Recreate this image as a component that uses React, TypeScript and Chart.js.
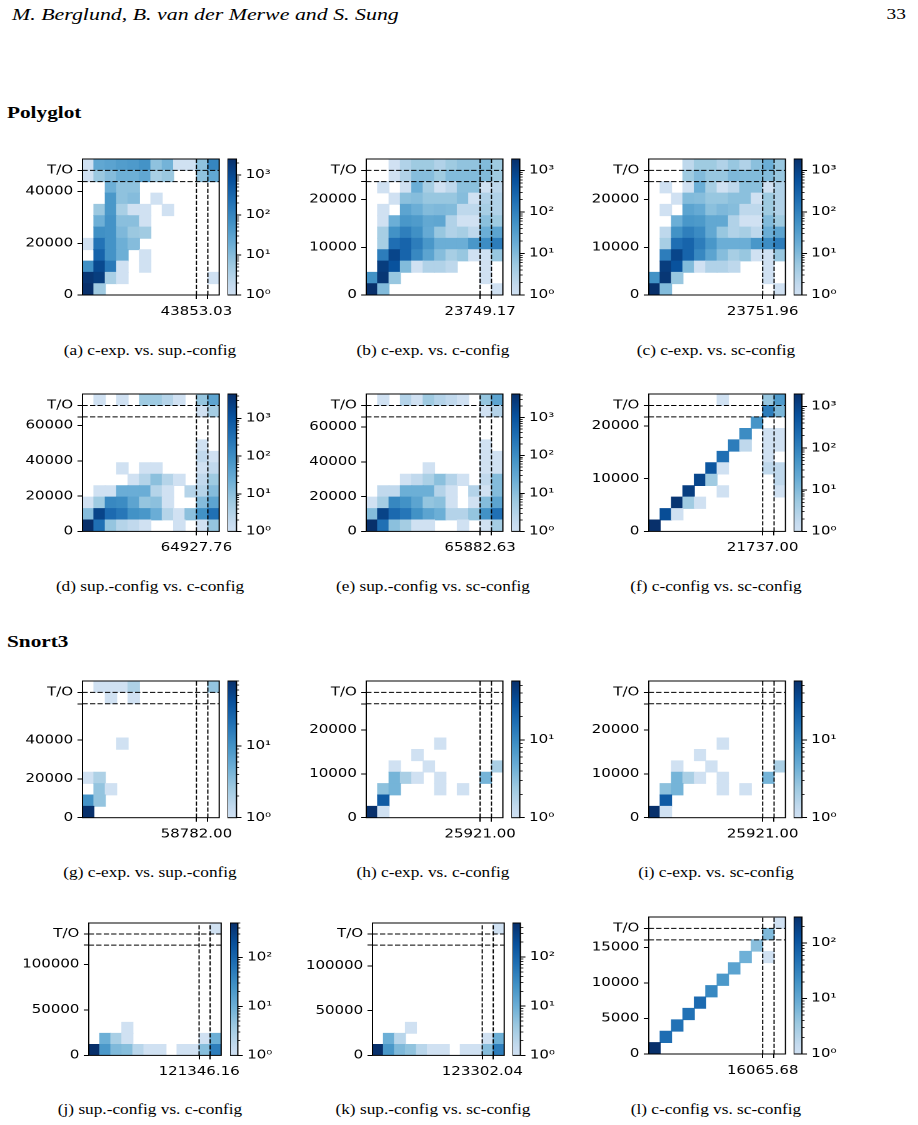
import { useEffect, useRef } from "react";
import { Chart, registerables } from "chart.js";

Chart.register(...registerables);

// Horizontal widening applied to the whole page (text and plots alike).
const SX = 1.25;

// ---------------------------------------------------------------- data
// Bin counts per panel, 12 x 12 bins; rows listed from the top (T/O row) down to 0.
const countsA = [
  [1, 25, 30, 40, 45, 60, 8, 15, 1, 1, 8, 100],
  [1, 6, 10, 18, 18, 25, 4, 6, 0, 0, 8, 25],
  [0, 0, 18, 8, 8, 0, 0, 0, 0, 0, 0, 0],
  [0, 0, 50, 8, 10, 0, 1, 0, 0, 0, 0, 0],
  [0, 6, 50, 4, 1, 1, 0, 1, 0, 0, 0, 0],
  [0, 18, 60, 9, 9, 1, 0, 0, 0, 0, 0, 0],
  [0, 70, 60, 12, 6, 5, 0, 0, 0, 0, 0, 0],
  [1, 200, 60, 18, 10, 0, 0, 0, 0, 0, 0, 0],
  [0, 350, 60, 18, 0, 1, 0, 0, 0, 0, 0, 0],
  [70, 1000, 170, 1, 0, 1, 0, 0, 0, 0, 0, 0],
  [2000, 1500, 4, 1, 0, 0, 0, 0, 0, 0, 0, 1],
  [2500, 5, 0, 0, 0, 0, 0, 0, 0, 0, 0, 0],
];
const countsB = [
  [0, 0, 1, 3, 5, 5, 3, 5, 7, 7, 10, 5],
  [0, 0, 1, 3, 9, 9, 5, 10, 10, 10, 10, 5],
  [0, 1, 0, 1, 17, 4, 1, 2, 8, 8, 1, 2],
  [0, 0, 1, 8, 9, 6, 6, 6, 9, 1, 3, 3],
  [0, 1, 0, 26, 17, 10, 11, 10, 2, 2, 4, 3],
  [0, 1, 17, 45, 38, 22, 24, 3, 1, 1, 8, 5],
  [0, 4, 55, 110, 60, 20, 6, 3, 4, 2, 17, 26],
  [0, 4, 200, 290, 115, 45, 17, 17, 17, 45, 65, 115],
  [0, 115, 900, 290, 80, 26, 9, 4, 6, 1, 1, 6],
  [0, 1200, 570, 10, 1, 3, 3, 2, 0, 0, 1, 0],
  [55, 1500, 6, 0, 0, 0, 0, 0, 0, 0, 1, 0],
  [1900, 10, 0, 0, 0, 0, 0, 0, 0, 0, 0, 1],
];
const countsC = [
  [0, 0, 0, 2, 5, 5, 3, 6, 3, 8, 17, 6],
  [0, 0, 0, 5, 10, 6, 6, 11, 10, 10, 10, 6],
  [0, 1, 0, 1, 17, 4, 1, 2, 8, 8, 1, 3],
  [0, 0, 1, 10, 9, 6, 6, 8, 8, 1, 5, 3],
  [0, 1, 0, 26, 20, 8, 11, 9, 2, 2, 5, 3],
  [0, 0, 17, 45, 40, 22, 22, 3, 1, 1, 10, 5],
  [0, 2, 55, 110, 70, 22, 6, 3, 4, 2, 17, 26],
  [0, 4, 200, 290, 115, 45, 17, 17, 17, 45, 65, 115],
  [0, 115, 900, 290, 80, 26, 9, 4, 6, 1, 1, 6],
  [0, 1200, 570, 10, 1, 3, 3, 2, 0, 0, 1, 0],
  [55, 1500, 6, 0, 0, 0, 0, 0, 0, 0, 1, 0],
  [1900, 10, 0, 0, 0, 0, 0, 0, 0, 0, 0, 1],
];
const countsD = [
  [0, 1, 0, 1, 0, 6, 6, 3, 1, 0, 8, 37],
  [0, 0, 0, 0, 0, 0, 0, 0, 0, 0, 1, 5],
  [0, 0, 0, 0, 0, 0, 0, 0, 0, 0, 0, 0],
  [0, 0, 0, 0, 0, 0, 0, 0, 0, 0, 0, 0],
  [0, 0, 0, 0, 0, 0, 0, 0, 0, 0, 1, 0],
  [0, 0, 0, 0, 0, 0, 0, 0, 0, 0, 2, 1],
  [0, 0, 0, 1, 0, 1, 1, 0, 0, 0, 1, 2],
  [0, 0, 0, 0, 1, 3, 10, 3, 1, 0, 2, 6],
  [0, 1, 1, 24, 24, 24, 3, 1, 0, 3, 3, 12],
  [1, 6, 130, 110, 37, 8, 10, 1, 0, 0, 12, 37],
  [12, 2000, 430, 260, 87, 70, 24, 3, 1, 10, 87, 340],
  [4600, 340, 8, 3, 2, 1, 0, 0, 1, 0, 1, 8],
];
const countsE = [
  [0, 1, 0, 3, 1, 6, 3, 2, 1, 0, 8, 37],
  [0, 0, 0, 0, 0, 0, 0, 0, 0, 0, 1, 3],
  [0, 0, 0, 0, 0, 0, 0, 0, 0, 0, 0, 0],
  [0, 0, 0, 0, 0, 0, 0, 0, 0, 0, 0, 0],
  [0, 0, 0, 0, 0, 0, 0, 0, 0, 0, 1, 0],
  [0, 0, 0, 0, 0, 0, 0, 0, 0, 0, 1, 1],
  [0, 0, 0, 0, 0, 1, 0, 0, 0, 0, 1, 1],
  [0, 0, 0, 1, 2, 4, 10, 3, 1, 0, 2, 12],
  [0, 2, 2, 22, 22, 22, 3, 1, 0, 3, 1, 12],
  [1, 5, 130, 85, 37, 8, 10, 1, 0, 1, 12, 37],
  [12, 2000, 430, 250, 85, 37, 22, 3, 3, 8, 85, 320],
  [4300, 320, 10, 5, 1, 1, 0, 0, 1, 0, 1, 5],
];
const countsF = [
  [0, 0, 0, 0, 0, 0, 1, 0, 0, 0, 6, 40],
  [0, 0, 0, 0, 0, 0, 0, 0, 0, 0, 120, 12],
  [0, 0, 0, 0, 0, 0, 0, 0, 0, 50, 0, 0],
  [0, 0, 0, 0, 0, 0, 0, 0, 70, 0, 1, 1],
  [0, 0, 0, 0, 0, 0, 0, 120, 2, 0, 1, 1],
  [0, 0, 0, 0, 0, 0, 200, 0, 0, 0, 1, 0],
  [0, 0, 0, 0, 0, 500, 1, 0, 0, 0, 2, 2],
  [0, 0, 0, 0, 900, 5, 0, 0, 0, 0, 0, 2],
  [0, 0, 0, 1200, 0, 0, 1, 0, 0, 0, 0, 1],
  [0, 0, 1700, 5, 1, 0, 0, 0, 0, 0, 0, 0],
  [0, 700, 1, 0, 0, 0, 0, 0, 0, 0, 0, 0],
  [2000, 0, 0, 0, 0, 0, 0, 0, 0, 0, 0, 0],
];
const countsG = [
  [0, 1, 1, 1, 2, 0, 0, 0, 0, 0, 0, 3],
  [0, 0, 1, 0, 1, 0, 0, 0, 0, 0, 0, 0],
  [0, 0, 0, 0, 0, 0, 0, 0, 0, 0, 0, 0],
  [0, 0, 0, 0, 0, 0, 0, 0, 0, 0, 0, 0],
  [0, 0, 0, 0, 0, 0, 0, 0, 0, 0, 0, 0],
  [0, 0, 0, 1, 0, 0, 0, 0, 0, 0, 0, 0],
  [0, 0, 0, 0, 0, 0, 0, 0, 0, 0, 0, 0],
  [0, 0, 0, 0, 0, 0, 0, 0, 0, 0, 0, 0],
  [1, 2, 0, 0, 0, 0, 0, 0, 0, 0, 0, 0],
  [0, 3, 1, 0, 0, 0, 0, 0, 0, 0, 0, 0],
  [10, 3, 0, 0, 0, 0, 0, 0, 0, 0, 0, 0],
  [80, 0, 0, 0, 0, 0, 0, 0, 0, 0, 0, 0],
];
const countsH = [
  [0, 0, 0, 0, 0, 0, 0, 0, 0, 0, 0, 0],
  [0, 0, 0, 0, 0, 0, 0, 0, 0, 0, 0, 0],
  [0, 0, 0, 0, 0, 0, 0, 0, 0, 0, 0, 0],
  [0, 0, 0, 0, 0, 0, 0, 0, 0, 0, 0, 0],
  [0, 0, 0, 0, 0, 0, 0, 0, 0, 0, 0, 0],
  [0, 0, 0, 0, 0, 0, 1, 0, 0, 0, 0, 0],
  [0, 0, 0, 0, 1, 0, 0, 0, 0, 0, 0, 0],
  [0, 0, 1, 0, 0, 1, 0, 0, 0, 0, 0, 2],
  [0, 0, 4, 2, 1, 0, 1, 0, 0, 0, 4, 0],
  [0, 3, 4, 0, 0, 0, 1, 0, 1, 0, 0, 0],
  [0, 25, 0, 0, 0, 0, 0, 0, 0, 0, 0, 0],
  [57, 1, 0, 0, 0, 0, 0, 0, 0, 0, 0, 0],
];
const countsI = [
  [0, 0, 0, 0, 0, 0, 0, 0, 0, 0, 0, 0],
  [0, 0, 0, 0, 0, 0, 0, 0, 0, 0, 0, 0],
  [0, 0, 0, 0, 0, 0, 0, 0, 0, 0, 0, 0],
  [0, 0, 0, 0, 0, 0, 0, 0, 0, 0, 0, 0],
  [0, 0, 0, 0, 0, 0, 0, 0, 0, 0, 0, 0],
  [0, 0, 0, 0, 0, 0, 1, 0, 0, 0, 0, 0],
  [0, 0, 0, 0, 1, 0, 0, 0, 0, 0, 0, 0],
  [0, 0, 1, 0, 0, 1, 0, 0, 0, 0, 0, 2],
  [0, 0, 4, 2, 1, 0, 1, 0, 0, 0, 4, 0],
  [0, 3, 4, 0, 0, 0, 1, 0, 1, 0, 0, 0],
  [0, 25, 0, 0, 0, 0, 0, 0, 0, 0, 0, 0],
  [57, 1, 0, 0, 0, 0, 0, 0, 0, 0, 0, 0],
];
const countsJ = [
  [0, 0, 0, 0, 0, 0, 0, 0, 0, 0, 0, 1],
  [0, 0, 0, 0, 0, 0, 0, 0, 0, 0, 0, 0],
  [0, 0, 0, 0, 0, 0, 0, 0, 0, 0, 0, 0],
  [0, 0, 0, 0, 0, 0, 0, 0, 0, 0, 0, 0],
  [0, 0, 0, 0, 0, 0, 0, 0, 0, 0, 0, 0],
  [0, 0, 0, 0, 0, 0, 0, 0, 0, 0, 0, 0],
  [0, 0, 0, 0, 0, 0, 0, 0, 0, 0, 0, 0],
  [0, 0, 0, 0, 0, 0, 0, 0, 0, 0, 0, 0],
  [0, 0, 0, 0, 0, 0, 0, 0, 0, 0, 0, 0],
  [0, 0, 0, 1, 0, 0, 0, 0, 0, 0, 0, 0],
  [0, 10, 3, 1, 0, 0, 0, 0, 0, 0, 1, 10],
  [500, 22, 7, 6, 2, 1, 1, 0, 1, 1, 6, 50],
];
const countsK = [
  [0, 0, 0, 0, 0, 0, 0, 0, 0, 0, 0, 1],
  [0, 0, 0, 0, 0, 0, 0, 0, 0, 0, 0, 0],
  [0, 0, 0, 0, 0, 0, 0, 0, 0, 0, 0, 0],
  [0, 0, 0, 0, 0, 0, 0, 0, 0, 0, 0, 0],
  [0, 0, 0, 0, 0, 0, 0, 0, 0, 0, 0, 0],
  [0, 0, 0, 0, 0, 0, 0, 0, 0, 0, 0, 0],
  [0, 0, 0, 0, 0, 0, 0, 0, 0, 0, 0, 0],
  [0, 0, 0, 0, 0, 0, 0, 0, 0, 0, 0, 0],
  [0, 0, 0, 0, 0, 0, 0, 0, 0, 0, 0, 0],
  [0, 0, 0, 1, 0, 0, 0, 0, 0, 0, 0, 0],
  [0, 10, 2, 0, 0, 0, 0, 0, 0, 0, 1, 10],
  [490, 22, 7, 5, 2, 1, 1, 0, 1, 1, 6, 50],
];
const countsL = [
  [0, 0, 0, 0, 0, 0, 0, 0, 0, 0, 0, 1],
  [0, 0, 0, 0, 0, 0, 0, 0, 0, 0, 6, 0],
  [0, 0, 0, 0, 0, 0, 0, 0, 0, 5, 0, 0],
  [0, 0, 0, 0, 0, 0, 0, 0, 8, 0, 1, 0],
  [0, 0, 0, 0, 0, 0, 0, 12, 0, 0, 0, 0],
  [0, 0, 0, 0, 0, 0, 17, 0, 0, 0, 0, 0],
  [0, 0, 0, 0, 0, 27, 0, 0, 0, 0, 0, 0],
  [0, 0, 0, 0, 60, 0, 0, 0, 0, 0, 0, 0],
  [0, 0, 0, 50, 0, 0, 0, 0, 0, 0, 0, 0],
  [0, 0, 50, 0, 0, 0, 0, 0, 0, 0, 0, 0],
  [0, 55, 0, 0, 0, 0, 0, 0, 0, 0, 0, 0],
  [295, 0, 0, 0, 0, 0, 0, 0, 0, 0, 0, 0],
];

// Timeout threshold of each comparison (x tick label, dashed lines).
const thresholds = [
  43853.03, 23749.17, 23751.96, 64927.76, 65882.63, 21737.0,
  58782.0, 25921.0, 25921.0, 121346.16, 123302.04, 16065.68,
];
// Labelled y ticks of each panel.
const yTickValues = [
  [0, 20000, 40000],
  [0, 10000, 20000],
  [0, 10000, 20000],
  [0, 20000, 40000, 60000],
  [0, 20000, 40000, 60000],
  [0, 10000, 20000],
  [0, 20000, 40000],
  [0, 10000, 20000],
  [0, 10000, 20000],
  [0, 50000, 100000],
  [0, 50000, 100000],
  [0, 5000, 10000, 15000],
];
// Upper end of each colour bar (log scale from 1).
const colorMax = [2500, 1900, 1900, 4500, 4200, 2000, 80, 57, 57, 500, 490, 295];
const captions = [
  "(a) c-exp. vs. sup.-config",
  "(b) c-exp. vs. c-config",
  "(c) c-exp. vs. sc-config",
  "(d) sup.-config vs. c-config",
  "(e) sup.-config vs. sc-config",
  "(f) c-config vs. sc-config",
  "(g) c-exp. vs. sup.-config",
  "(h) c-exp. vs. c-config",
  "(i) c-exp. vs. sc-config",
  "(j) sup.-config vs. c-config",
  "(k) sup.-config vs. sc-config",
  "(l) c-config vs. sc-config",
];
const allCounts = [countsA, countsB, countsC, countsD, countsE, countsF, countsG, countsH, countsI, countsJ, countsK, countsL];

// ---------------------------------------------------------------- layout
// [plotLeft, plotTop, plotRight, plotBottom, barLeft, barRight] in page pixels.
const PANEL_BOXES = [
  [82.3, 159, 219, 295, 227.5, 236.3],
  [365.7, 159, 502.3, 295, 510.7, 519.2],
  [648.3, 159, 785, 295, 793.3, 801.5],
  [82.3, 394.3, 219, 531.7, 227.5, 236.5],
  [365.7, 394.3, 502.3, 531.7, 510.7, 519.2],
  [648.3, 394.3, 785, 531.7, 793.3, 801.5],
  [82.3, 681, 219, 817.7, 227.5, 236.5],
  [365.7, 681, 502.3, 817.7, 510.7, 519.2],
  [648.3, 681, 785, 817.7, 793.3, 801.5],
  [89.3, 923.3, 221.7, 1055.7, 229.7, 237.5],
  [372.3, 923.3, 504, 1055.7, 512.3, 520.2],
  [648.3, 917.3, 785, 1054.3, 793.3, 801.5],
];
const CAPTION_X = [150, 433, 716];
const CAPTION_Y = [351, 587, 873, 1110];

const TICK_FONT = { family: "'DejaVu Sans'", size: 12 };
const AX_W = 62; // room for the y tick labels
const PAD_T = 12;
const EXTRA_R = 40; // room for the x tick label overhanging the plot
const CB_AX_W = 40;
const CB_PAD = 14;

// matplotlib "Blues", used from 0.2 upwards
const BLUES = [
  [247, 251, 255], [222, 235, 247], [198, 219, 239], [158, 202, 225], [107, 174, 214],
  [66, 146, 198], [33, 113, 181], [8, 81, 156], [8, 48, 107],
];
function blues(t: number) {
  const x = Math.min(Math.max(t, 0), 1) * 8;
  const i = Math.min(Math.floor(x), 7);
  const f = x - i;
  const a = BLUES[i];
  const b = BLUES[i + 1];
  const c = a.map((v, k) => Math.round(v + (b[k] - v) * f));
  return `rgb(${c[0]},${c[1]},${c[2]})`;
}
const cmap = (t: number) => blues(0.2 + 0.8 * t);

const SUP = ["⁰", "¹", "²", "³", "⁴", "⁵"];

const framePlugin = {
  id: "frame",
  afterDatasetsDraw(chart: any) {
    const { ctx, chartArea: a } = chart;
    ctx.save();
    ctx.strokeStyle = "#000";
    ctx.lineWidth = 1;
    ctx.setLineDash([]);
    ctx.strokeRect(a.left, a.top, a.right - a.left, a.bottom - a.top);
    ctx.restore();
  },
};

function Heatmap({ counts, threshold, yTicks, vmax, box }: any) {
  const ref = useRef<HTMLCanvasElement>(null);
  const [pl, pt, pr, pb] = box;
  const plotW = (pr - pl) / SX;
  const plotH = pb - pt;
  const width = Math.ceil(AX_W + plotW + EXTRA_R);
  const height = Math.ceil(PAD_T + plotH + 30);
  const padR = width - AX_W - plotW;
  const axH = height - PAD_T - plotH;

  useEffect(() => {
    const bin = threshold / 10;
    const timeout = threshold * 1.1;
    const span = bin * counts[0].length;
    const cells: any[] = [];
    const fills: string[] = [];
    const nRows = counts.length;
    counts.forEach((row: number[], i: number) => {
      const r = nRows - 1 - i;
      row.forEach((n, c) => {
        if (n > 0) {
          cells.push({ x: (c + 0.5) * bin, y: [r * bin, (r + 1) * bin] });
          fills.push(cmap(Math.log(n) / Math.log(vmax)));
        }
      });
    });
    const dashed = (pts: any[]) => ({
      type: "line",
      data: pts,
      borderColor: "#000",
      borderWidth: 1,
      borderDash: [4.2, 1.8],
      pointRadius: 0,
      fill: false,
      tension: 0,
      order: 0,
    });
    const yVals = [...yTicks, threshold, timeout];
    const yLabels = [...yTicks.map((v: number) => String(v)), "", "T/O"];
    const xVals = [threshold, timeout];
    const xLabels = [threshold.toFixed(2), ""];

    const chart = new Chart(ref.current as HTMLCanvasElement, {
      type: "bar",
      data: {
        datasets: [
          {
            type: "bar",
            data: cells,
            backgroundColor: fills,
            borderWidth: 0,
            barPercentage: 1,
            categoryPercentage: 1,
            inflateAmount: 0.4,
            order: 1,
          } as any,
          dashed([{ x: 0, y: threshold }, { x: span, y: threshold }]),
          dashed([{ x: 0, y: timeout }, { x: span, y: timeout }]),
          dashed([{ x: threshold, y: 0 }, { x: threshold, y: span }]),
          dashed([{ x: timeout, y: 0 }, { x: timeout, y: span }]),
        ],
      },
      options: {
        animation: false,
        responsive: false,
        devicePixelRatio: 2,
        events: [],
        layout: { padding: { top: PAD_T, right: padR, left: 0, bottom: 0 } },
        plugins: { legend: { display: false }, tooltip: { enabled: false } },
        scales: {
          x: {
            type: "linear",
            min: 0,
            max: span,
            offset: false,
            afterBuildTicks: (s: any) => {
              s.ticks = xVals.map((v) => ({ value: v }));
            },
            afterFit: (s: any) => {
              s.height = axH;
            },
            ticks: {
              callback: (_v: any, i: number) => xLabels[i],
              autoSkip: false,
              maxRotation: 0,
              minRotation: 0,
              color: "#000",
              font: TICK_FONT,
              padding: 5.5,
            },
            grid: {
              drawOnChartArea: false,
              drawTicks: true,
              tickLength: 4,
              tickColor: "#000",
              tickWidth: 1,
              offset: false,
            },
            border: { display: false },
          },
          y: {
            type: "linear",
            min: 0,
            max: span,
            afterBuildTicks: (s: any) => {
              s.ticks = yVals.map((v) => ({ value: v }));
            },
            afterFit: (s: any) => {
              s.width = AX_W;
            },
            ticks: {
              callback: (_v: any, i: number) => yLabels[i],
              autoSkip: false,
              color: "#000",
              font: TICK_FONT,
              padding: 3.5,
            },
            grid: {
              drawOnChartArea: false,
              drawTicks: true,
              tickLength: 4,
              tickColor: "#000",
              tickWidth: 1,
            },
            border: { display: false },
          },
        },
      } as any,
      plugins: [framePlugin],
    });
    return () => chart.destroy();
  }, []);

  return (
    <canvas
      ref={ref}
      width={width}
      height={height}
      style={{ position: "absolute", left: pl / SX - AX_W, top: pt - PAD_T, width, height }}
    />
  );
}

function Colorbar({ vmax, box }: any) {
  const ref = useRef<HTMLCanvasElement>(null);
  const [, pt, , pb, cl, cr] = box;
  const barW = (cr - cl) / SX;
  const barH = pb - pt;
  const width = Math.ceil(barW + CB_AX_W);
  const height = Math.ceil(barH + 2 * CB_PAD);
  const axW = width - barW;
  const padB = height - CB_PAD - barH;

  useEffect(() => {
    const vals: number[] = [];
    const labels: string[] = [];
    for (let e = 0; Math.pow(10, e) <= vmax; e++) {
      for (let m = 1; m < 10; m++) {
        const v = m * Math.pow(10, e);
        if (v <= vmax) {
          vals.push(v);
          labels.push(m === 1 ? "10" + SUP[e] : "");
        }
      }
    }
    const isMajor = (ctx: any) => {
      const i = ctx.index;
      return i !== undefined && labels[i] !== undefined && labels[i] !== "";
    };
    const gradient = (ctx: any) => {
      const { chart } = ctx;
      const a = chart.chartArea;
      if (!a) return "transparent";
      const g = chart.ctx.createLinearGradient(0, a.bottom, 0, a.top);
      for (let i = 0; i <= 32; i++) g.addColorStop(i / 32, cmap(i / 32));
      return g;
    };
    const chart = new Chart(ref.current as HTMLCanvasElement, {
      type: "bar",
      data: {
        labels: [""],
        datasets: [
          {
            data: [[1, vmax]],
            backgroundColor: gradient,
            borderWidth: 0,
            barPercentage: 1,
            categoryPercentage: 1,
          } as any,
        ],
      },
      options: {
        animation: false,
        responsive: false,
        devicePixelRatio: 2,
        events: [],
        layout: { padding: { top: CB_PAD, bottom: padB, left: 0, right: 0 } },
        plugins: { legend: { display: false }, tooltip: { enabled: false } },
        scales: {
          x: { display: false },
          y: {
            type: "logarithmic",
            position: "right",
            min: 1,
            max: vmax,
            afterBuildTicks: (s: any) => {
              s.ticks = vals.map((v) => ({ value: v }));
            },
            afterFit: (s: any) => {
              s.width = axW;
            },
            ticks: {
              callback: (_v: any, i: number) => labels[i],
              autoSkip: false,
              color: "#000",
              font: TICK_FONT,
              padding: 3.5,
            },
            grid: {
              drawOnChartArea: false,
              drawTicks: true,
              tickLength: 4,
              tickColor: "#000",
              tickWidth: (ctx: any) => (isMajor(ctx) ? 1 : 0.8),
              tickBorderDash: (ctx: any) => (isMajor(ctx) ? [] : [2.2, 20]),
            },
            border: { display: false },
          },
        },
      } as any,
      plugins: [framePlugin],
    });
    return () => chart.destroy();
  }, []);

  return (
    <canvas
      ref={ref}
      width={width}
      height={height}
      style={{ position: "absolute", left: cl / SX, top: pt - CB_PAD, width, height }}
    />
  );
}

function Caption({ text, cx, cy }: any) {
  return (
    <div
      style={{
        position: "absolute",
        left: cx / SX - 150,
        width: 300,
        top: cy - 9,
        height: 18,
        lineHeight: "18px",
        fontSize: 13.8,
        textAlign: "center",
        whiteSpace: "nowrap",
      }}
    >
      {text}
    </div>
  );
}

export default function App() {
  return (
    <div
      style={{
        position: "absolute",
        left: 0,
        top: 0,
        width: 918 / SX,
        height: 1125,
        transform: `scaleX(${SX})`,
        transformOrigin: "0 0",
        fontFamily: "'Liberation Serif', serif",
        color: "#000",
        background: "#fff",
        overflow: "hidden",
      }}
    >
      <div
        style={{
          position: "absolute",
          left: 12 / SX,
          top: 3,
          fontSize: 17.5,
          lineHeight: "22px",
          fontStyle: "italic",
          whiteSpace: "nowrap",
        }}
      >
        M. Berglund, B. van der Merwe and S. Sung
      </div>
      <div
        style={{
          position: "absolute",
          left: 906 / SX - 60,
          width: 60,
          top: 3,
          fontSize: 15.5,
          lineHeight: "22px",
          textAlign: "right",
        }}
      >
        33
      </div>
      <div style={{ position: "absolute", left: 7 / SX, top: 102, fontSize: 17, lineHeight: "22px", fontWeight: "bold" }}>
        Polyglot
      </div>
      <div style={{ position: "absolute", left: 7 / SX, top: 631, fontSize: 17, lineHeight: "22px", fontWeight: "bold" }}>
        Snort3
      </div>
      {allCounts.map((counts, i) => (
        <div key={i}>
          <Heatmap
            counts={counts}
            threshold={thresholds[i]}
            yTicks={yTickValues[i]}
            vmax={colorMax[i]}
            box={PANEL_BOXES[i]}
          />
          <Colorbar vmax={colorMax[i]} box={PANEL_BOXES[i]} />
          <Caption text={captions[i]} cx={CAPTION_X[i % 3]} cy={CAPTION_Y[Math.floor(i / 3)]} />
        </div>
      ))}
    </div>
  );
}
